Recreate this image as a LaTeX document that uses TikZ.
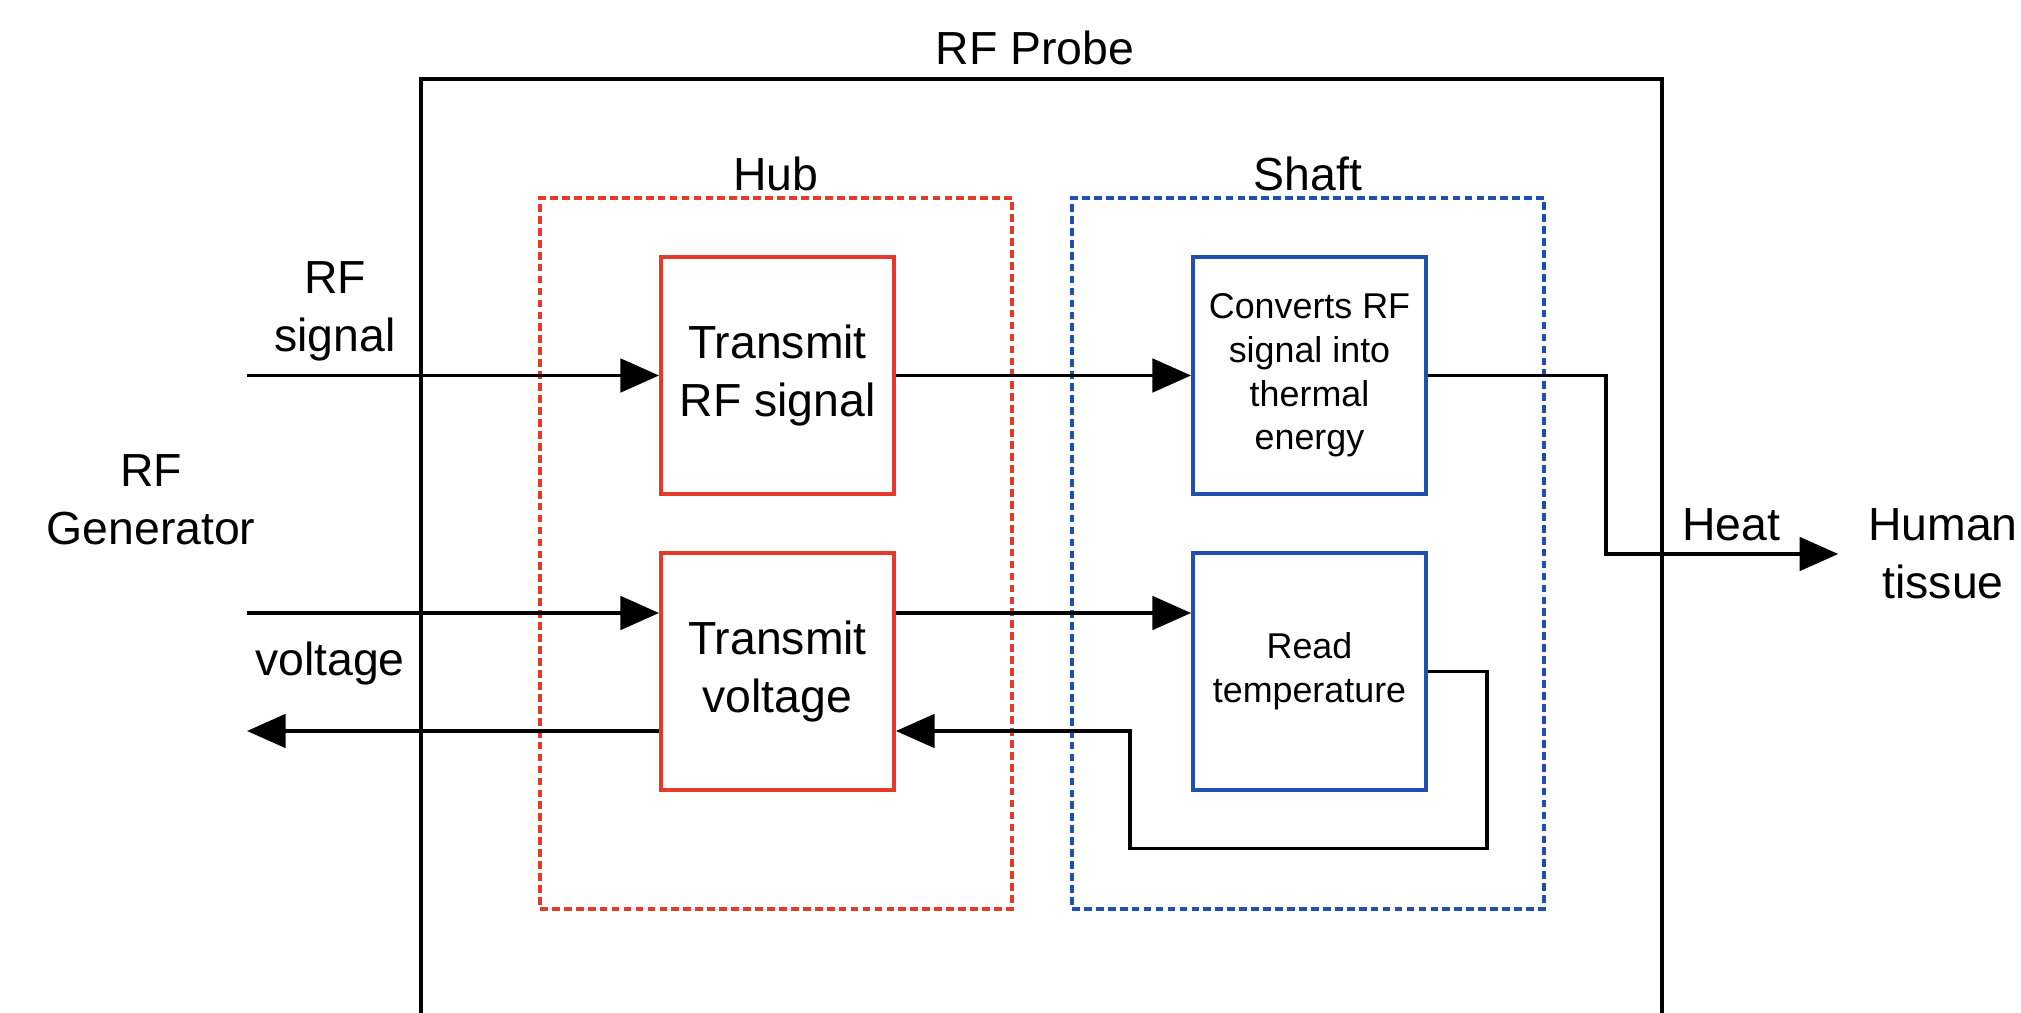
\documentclass[tikz,border=0pt]{standalone}
\usepackage{fontspec}
\setmainfont{Liberation Sans}
\usetikzlibrary{arrows.meta,positioning}
\definecolor{hubred}{RGB}{229,58,42}
\definecolor{shaftblue}{RGB}{31,79,176}
\tikzset{
  big/.style={font=\fontsize{13.2}{16.5}\selectfont, align=center},
  small/.style={font=\fontsize{10.2}{12.4}\selectfont, align=center},
  block/.style={draw, line width=1.1pt, minimum width=23.3mm, minimum height=23.7mm, inner sep=0pt},
  hubblock/.style={block, draw=hubred, big},
  shaftblock/.style={block, draw=shaftblue, small},
  zone/.style={draw, line width=1pt, dash pattern=on 2.2pt off 1.2pt, minimum width=47.2mm, minimum height=71.1mm, inner sep=0pt},
  sig/.style={line width=1.1pt, -{Triangle[length=11pt,width=9.5pt]}},
}
\begin{document}
\begin{tikzpicture}[x=0.1mm, y=-0.1mm, line join=miter]
\useasboundingbox (0,0) rectangle (2021,1013);
% probe housing, open at the bottom
\draw[line width=1pt] (421,1013) -- (421,79) -- (1662,79) -- (1662,1013);
\node[big] (probe) at (1035,48) {RF Probe};

% hub and shaft
\node[zone, draw=hubred] (hub) at (776,553.5) {};
\node[zone, draw=shaftblue] (shaft) at (1308,553.5) {};
\node[big, above=-2pt of hub] (hublbl) {Hub};
\node[big, above=-2pt of shaft] (shaftlbl) {Shaft};

\node[hubblock] (rftx) at (777.5,375.5) {Transmit\\RF signal};
\node[hubblock] (volttx) at (777.5,671.5) {Transmit\\voltage};
\node[shaftblock] (convert) at (1309.5,375.5) {Converts RF\\signal into\\thermal\\energy};
\node[shaftblock] (readtemp) at (1309.5,671.5) {Read\\temperature};

% outside
\node[big] (rfsig) at (335,311) {RF\\signal};
\node[big] (gen) at (151,500) {RF\\Generator};
\node[big] (voltlbl) at (330,664) {voltage};
\node[big] (heat) at (1731,525) {Heat};
\node[big] (tissue) at (1943,554) {Human\\tissue};

\coordinate (rfin) at (247,375.5);
\coordinate (vin) at (247,613);
\coordinate (vout) at (247,731);

% signal paths
\draw[sig] (rfin) -- (rftx.west);
\draw[sig] (rftx.east) -- (convert.west);
\draw[sig] (vin) -- (vin -| volttx.west);
\draw[sig] (vin -| volttx.east) -- (vin -| readtemp.west);
\draw[sig] (vout -| volttx.west) -- (vout);
\draw[sig] (readtemp.east) -- ++(59,0) -- ++(0,177) -| (1130,731) -- (vout -| volttx.east);
\draw[sig, shorten >=5pt] (convert.east) -- ++(178,0) |- (tissue.west);
\end{tikzpicture}
\end{document}
